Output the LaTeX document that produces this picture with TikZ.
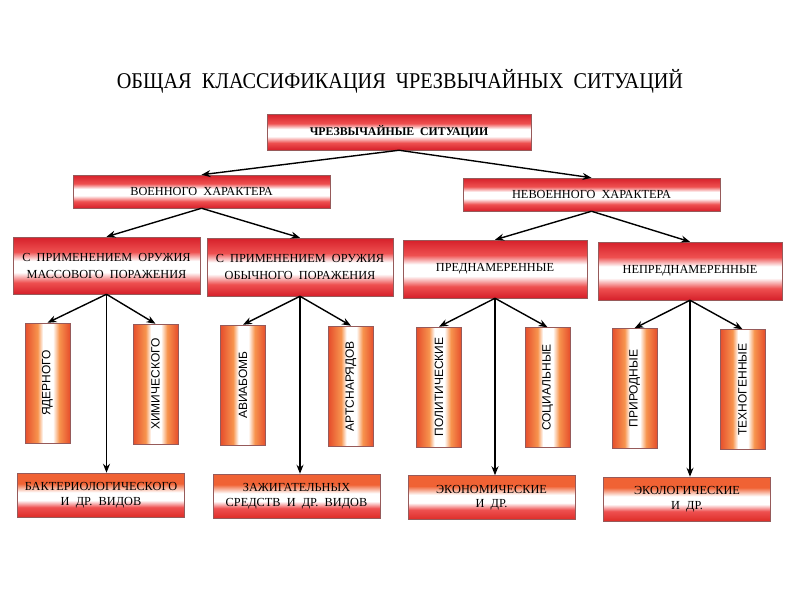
\documentclass[tikz,border=0pt]{standalone}
\usepackage{fontspec}
\usepackage{graphicx}
\setmainfont{Liberation Serif}
\newfontfamily\vsans{Liberation Sans}
\usetikzlibrary{arrows.meta}
\definecolor{rdark}{RGB}{214,32,42}
\definecolor{rmid}{RGB}{238,80,80}
\definecolor{odark}{RGB}{230,78,44}
\definecolor{omid}{RGB}{247,148,78}
\definecolor{btop}{RGB}{240,98,52}
\definecolor{bbot}{RGB}{222,45,40}
\definecolor{edge}{RGB}{150,90,90}
\pgfdeclareverticalshading{hband}{100bp}{color(0bp)=(rdark); color(25bp)=(rdark); color(35bp)=(rmid); color(44bp)=(white); color(54bp)=(white); color(62bp)=(rmid); color(75bp)=(rdark); color(100bp)=(rdark)}
\pgfdeclarehorizontalshading{vband}{100bp}{color(0bp)=(odark); color(25bp)=(odark); color(39bp)=(omid); color(45bp)=(white); color(56bp)=(white); color(63bp)=(omid); color(75bp)=(odark); color(100bp)=(odark)}
\pgfdeclareverticalshading{bband}{100bp}{color(0bp)=(bbot); color(25bp)=(bbot); color(36bp)=(rmid); color(44bp)=(white); color(53bp)=(white); color(63bp)=(btop); color(75bp)=(btop); color(100bp)=(btop)}
\tikzset{
  hbox/.style={rectangle, draw=edge, line width=0.5pt, shading=hband, inner sep=0pt, align=center, font=\fontsize{12.3}{17}\selectfont},
  vbox/.style={rectangle, draw=edge, line width=0.5pt, shading=vband, inner sep=0pt, minimum width=45pt, minimum height=120pt, font=\vsans\fontsize{12}{14}\selectfont},
  bbox/.style={rectangle, draw=edge, line width=0.5pt, shading=bband, inner sep=0pt, align=center, minimum width=167pt, minimum height=44pt, font=\fontsize{12.3}{14.5}\selectfont},
  conn/.style={line width=1.4pt, -{Stealth[length=9pt,width=7pt]}},
}
\begin{document}
\begin{tikzpicture}[x=1pt,y=-1pt]
\useasboundingbox (0,0) rectangle (800,600);
\node (title) at (400,81) {\scalebox{0.9}[1]{\fontsize{22.5}{26}\selectfont ОБЩАЯ\ \ КЛАССИФИКАЦИЯ\ \ ЧРЕЗВЫЧАЙНЫХ\ \ СИТУАЦИЙ}};
\node[hbox, minimum width=264pt, minimum height=36pt, font=\bfseries\fontsize{11.8}{14}\selectfont] (root) at (399,132) {ЧРЕЗВЫЧАЙНЫЕ\ \ СИТУАЦИИ};
\node[hbox, minimum width=257pt, minimum height=33pt] (mil) at (201.5,191.5) {ВОЕННОГО\ \ ХАРАКТЕРА};
\node[hbox, minimum width=257pt, minimum height=33pt] (nonmil) at (591.5,194.5) {НЕВОЕННОГО\ \ ХАРАКТЕРА};
\node[hbox, minimum width=187pt, minimum height=57pt] (wmd) at (106.5,265.5) {С\ \ ПРИМЕНЕНИЕМ\ \ ОРУЖИЯ\\МАССОВОГО\ \ ПОРАЖЕНИЯ};
\node[hbox, minimum width=186pt, minimum height=58pt] (conv) at (300,267) {С\ \ ПРИМЕНЕНИЕМ\ \ ОРУЖИЯ\\ОБЫЧНОГО\ \ ПОРАЖЕНИЯ};
\node[hbox, minimum width=184pt, minimum height=58pt] (intent) at (495,269) {ПРЕДНАМЕРЕННЫЕ};
\node[hbox, minimum width=184pt, minimum height=58pt] (unint) at (690,271) {НЕПРЕДНАМЕРЕННЫЕ};
\node[vbox] (nuc) at (47.5,383) {\rotatebox{90}{ЯДЕРНОГО}};
\node[vbox] (chem) at (155.5,384) {\rotatebox{90}{ХИМИЧЕСКОГО}};
\node[vbox] (avia) at (243,385) {\rotatebox{90}{АВИАБОМБ}};
\node[vbox] (art) at (351,386) {\rotatebox{90}{АРТСНАРЯДОВ}};
\node[vbox] (pol) at (439,387) {\rotatebox{90}{ПОЛИТИЧЕСКИЕ}};
\node[vbox] (soc) at (547.5,387.5) {\rotatebox{90}{СОЦИАЛЬНЫЕ}};
\node[vbox] (nat) at (634.5,388.5) {\rotatebox{90}{ПРИРОДНЫЕ}};
\node[vbox] (tech) at (742.5,389.5) {\rotatebox{90}{ТЕХНОГЕННЫЕ}};
\node[bbox] (bact) at (101,495) {БАКТЕРИОЛОГИЧЕСКОГО\\И\ \ ДР.\ \ ВИДОВ};
\node[bbox] (inc) at (296.5,496) {ЗАЖИГАТЕЛЬНЫХ\\СРЕДСТВ\ \ И\ \ ДР.\ \ ВИДОВ};
\node[bbox] (econ) at (491.5,497.5) {ЭКОНОМИЧЕСКИЕ\\И\ \ ДР.};
\node[bbox] (ecol) at (687,499) {ЭКОЛОГИЧЕСКИЕ\\И\ \ ДР.};
\draw[conn] (root.south) -- (mil.north);
\draw[conn] (root.south) -- (nonmil.north);
\draw[conn] (mil.south) -- (wmd.north);
\draw[conn] (mil.south) -- (conv.north);
\draw[conn] (nonmil.south) -- (intent.north);
\draw[conn] (nonmil.south) -- (unint.north);
\draw[conn] (wmd.south) -- (nuc.north);
\draw[conn] (wmd.south) -- (chem.north);
\draw[conn] (wmd.south) -- (wmd.south |- bact.north);
\draw[conn] (conv.south) -- (avia.north);
\draw[conn] (conv.south) -- (art.north);
\draw[conn] (conv.south) -- (conv.south |- inc.north);
\draw[conn] (intent.south) -- (pol.north);
\draw[conn] (intent.south) -- (soc.north);
\draw[conn] (intent.south) -- (intent.south |- econ.north);
\draw[conn] (unint.south) -- (nat.north);
\draw[conn] (unint.south) -- (tech.north);
\draw[conn] (unint.south) -- (unint.south |- ecol.north);
\end{tikzpicture}
\end{document}
